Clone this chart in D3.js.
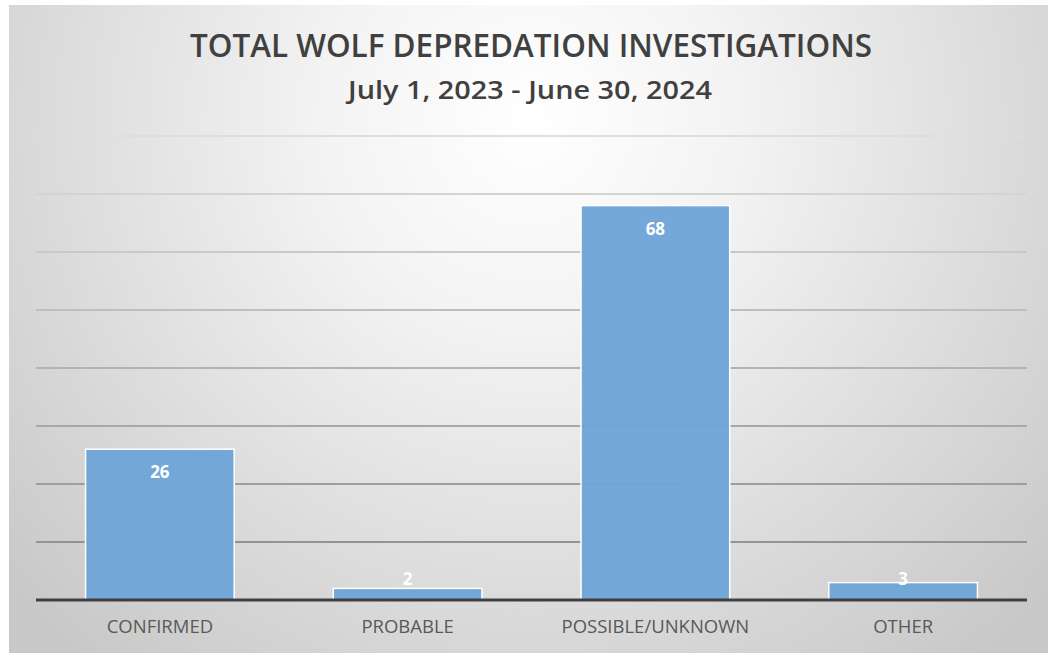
<!DOCTYPE html>
<html>
<head>
<meta charset="utf-8">
<script src="https://cdn.jsdelivr.net/npm/d3@7"></script>
<style>
  body { margin: 0; background: #fff; }
  svg { display: block; }
</style>
</head>
<body>
<div id="chart"></div>
<script>
// chart data
var categories = ["CONFIRMED", "PROBABLE", "POSSIBLE/UNKNOWN", "OTHER"];
var counts = [26, 2, 68, 3];
var yTicks = [0, 10, 20, 30, 40, 50, 60, 70, 80];
var titleText = "TOTAL WOLF DEPREDATION INVESTIGATIONS";
var subtitleText = "July 1, 2023 - June 30, 2024";

var width = 1048, height = 653;
var margin = {top: 136, right: 21, bottom: 53, left: 36};

var svg = d3.select("#chart").append("svg")
    .attr("width", width)
    .attr("height", height);

// radial grey background
var defs = svg.append("defs");
var grad = defs.append("radialGradient")
    .attr("id", "bg")
    .attr("gradientUnits", "userSpaceOnUse")
    .attr("cx", 530).attr("cy", 120).attr("r", 700);
grad.append("stop").attr("offset", "0%").attr("stop-color", "#ffffff");
grad.append("stop").attr("offset", "30%").attr("stop-color", "#f3f3f3");
grad.append("stop").attr("offset", "100%").attr("stop-color", "#c8c8c8");

svg.append("rect")
    .attr("x", 9).attr("y", 5)
    .attr("width", width - 9).attr("height", height - 5)
    .attr("fill", "url(#bg)");

var x = d3.scaleBand()
    .domain(categories)
    .range([margin.left, width - margin.right])
    .paddingInner(0.4)
    .paddingOuter(0.2);

var y = d3.scaleLinear()
    .domain([0, 80])
    .range([height - margin.bottom, margin.top]);

var lineColor = d3.scaleLinear()
    .domain([80, 0])
    .range(["#dedede", "#888888"]);

// gridlines
svg.append("g")
    .selectAll("line")
    .data(yTicks.filter(function(d) { return d > 0; }))
    .enter()
    .append("line")
    .attr("x1", margin.left)
    .attr("x2", width - margin.right)
    .attr("y1", function(d) { return y(d); })
    .attr("y2", function(d) { return y(d); })
    .attr("stroke", function(d) { return lineColor(d); })
    .attr("stroke-width", 2);

// bars
svg.append("g")
    .selectAll("rect")
    .data(counts)
    .enter()
    .append("rect")
    .attr("x", function(d, i) { return x(categories[i]); })
    .attr("y", function(d) { return y(d); })
    .attr("width", x.bandwidth())
    .attr("height", function(d) { return y(0) - y(d); })
    .attr("fill", "#6fa5d7")
    .attr("fill-opacity", 0.97)
    .attr("stroke", "#ffffff")
    .attr("stroke-width", 1.5);

// baseline
svg.append("line")
    .attr("x1", margin.left)
    .attr("x2", width - margin.right)
    .attr("y1", y(0))
    .attr("y2", y(0))
    .attr("stroke", "#3f3f3f")
    .attr("stroke-width", 3);

// value labels
svg.append("g")
    .selectAll("text")
    .data(counts)
    .enter()
    .append("text")
    .attr("x", function(d, i) { return x(categories[i]) + x.bandwidth() / 2; })
    .attr("y", function(d) { return Math.min(y(d) + 23, y(0) - 21); })
    .attr("dy", "0.35em")
    .attr("text-anchor", "middle")
    .style("font-family", "'Open Sans', sans-serif")
    .style("font-weight", "bold")
    .style("font-size", "17px")
    .style("fill", "#ffffff")
    .text(function(d) { return d; });

// category labels
var xAxis = d3.axisBottom(x).tickSize(0).tickPadding(0);
var gx = svg.append("g")
    .attr("transform", "translate(0," + y(0) + ")")
    .call(xAxis);
gx.select(".domain").remove();
gx.selectAll("text")
    .attr("y", 27)
    .attr("dy", "0.35em")
    .style("font-family", "'Open Sans', sans-serif")
    .style("font-size", "18.5px")
    .style("fill", "#595959");

// titles
svg.append("text")
    .attr("x", 531)
    .attr("y", 57)
    .attr("text-anchor", "middle")
    .attr("textLength", 682)
    .attr("lengthAdjust", "spacingAndGlyphs")
    .style("font-family", "'Open Sans', sans-serif")
    .style("font-weight", "600")
    .style("font-size", "32px")
    .style("fill", "#404040")
    .text(titleText);

svg.append("text")
    .attr("x", 530)
    .attr("y", 99)
    .attr("text-anchor", "middle")
    .attr("textLength", 364)
    .attr("lengthAdjust", "spacingAndGlyphs")
    .style("font-family", "'Open Sans', sans-serif")
    .style("font-weight", "600")
    .style("font-size", "25px")
    .style("fill", "#404040")
    .text(subtitleText);
</script>
</body>
</html>
